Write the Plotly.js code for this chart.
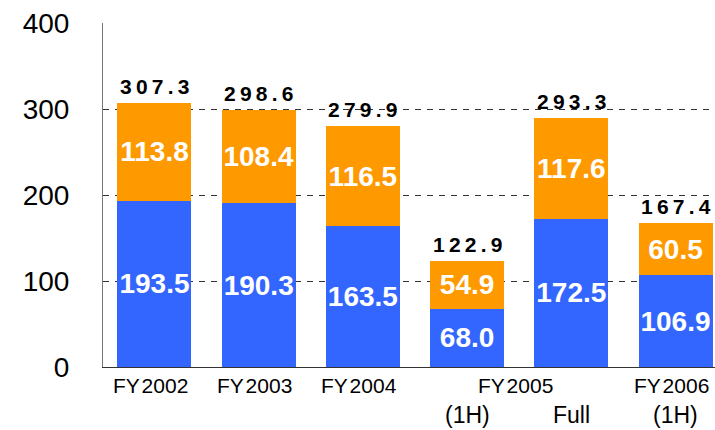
<!DOCTYPE html>
<html>
<head>
<meta charset="utf-8">
<script src="https://cdn.plot.ly/plotly-3.0.1.min.js"></script>
<style>html,body{margin:0;padding:0;background:#fff;}#chart{width:715px;height:430px;}</style>
</head>
<body>
<div id="chart"></div>
<script>
// ---- data ----
const categories = ['FY2002', 'FY2003', 'FY2004', 'FY2005 (1H)', 'FY2005 Full', 'FY2006 (1H)'];
const yearLabels = ['FY\u200A2002', 'FY\u200A2003', 'FY\u200A2004', 'FY\u200A2005', 'FY\u200A2005', 'FY\u200A2006'];
const subLabels = ['', '', '', '(1H)', 'Full', '(1H)'];
const blueValues = [193.5, 190.3, 163.5, 68.0, 172.5, 106.9];
const orangeValues = [113.8, 108.4, 116.5, 54.9, 117.6, 60.5];
const totals = [307.3, 298.6, 279.9, 122.9, 293.3, 167.4];
const yTicks = [0, 100, 200, 300, 400];

const FONT = 'Liberation Sans, Arial, sans-serif';
const idx = categories.map((c, i) => i);

function spaced(v) {
  return v.toFixed(1).split('').join('\u2009');
}

const common = {
  type: 'bar',
  x: idx,
  width: 0.71,
  textposition: 'inside',
  insidetextanchor: 'middle',
  textangle: 0,
  constraintext: 'none',
  textfont: {family: FONT, size: 28, color: '#ffffff'},
  hoverinfo: 'skip'
};

const traces = [
  Object.assign({}, common, {
    name: 'blue', y: blueValues,
    text: blueValues.map(v => '<b>' + v.toFixed(1) + '</b>'),
    marker: {color: '#3366FF', line: {width: 0}}
  }),
  Object.assign({}, common, {
    name: 'orange', y: orangeValues,
    text: orangeValues.map(v => '<b>' + v.toFixed(1) + '</b>'),
    marker: {color: '#FF9900', line: {width: 0}}
  })
];

const annotations = [];
// totals above bars
idx.forEach(i => {
  annotations.push({
    x: i, y: blueValues[i] + orangeValues[i], xref: 'x', yref: 'y',
    text: '<b>' + spaced(totals[i]) + '</b>', showarrow: false,
    yanchor: 'bottom', yshift: 3,
    font: {family: FONT, size: 21, color: '#000000'}
  });
});
// year labels (centered over all categories sharing that label)
const seen = {};
yearLabels.forEach((lab, i) => {
  if (seen[lab]) return;
  seen[lab] = true;
  const members = idx.filter(j => yearLabels[j] === lab);
  const xc = members.reduce((a, b) => a + b, 0) / members.length;
  annotations.push({
    x: xc, y: 0, xref: 'x', yref: 'paper', text: lab, showarrow: false,
    yanchor: 'middle', yshift: -18, xshift: -4,
    font: {family: FONT, size: 21, color: '#000000'}
  });
});
// sub labels
subLabels.forEach((lab, i) => {
  if (!lab) return;
  annotations.push({
    x: i, y: 0, xref: 'x', yref: 'paper', text: lab, showarrow: false,
    yanchor: 'middle', yshift: -48,
    font: {family: FONT, size: 23, color: '#000000'}
  });
});

const layout = {
  width: 715, height: 430,
  margin: {l: 103, r: 0, t: 23, b: 63, pad: 0},
  paper_bgcolor: '#ffffff', plot_bgcolor: '#ffffff',
  barmode: 'stack',
  showlegend: false,
  font: {family: FONT, color: '#000000'},
  uniformtext: {minsize: 28, mode: 'show'},
  xaxis: {
    range: [-0.494, 5.379], showticklabels: false, showgrid: false,
    zeroline: false, showline: true, linecolor: '#333333', linewidth: 1,
    ticks: '', fixedrange: true
  },
  yaxis: {
    range: [0, 400], tickvals: yTicks, ticktext: yTicks.map(String),
    showgrid: true, gridcolor: '#333333', gridwidth: 1, griddash: '6px,6px',
    zeroline: false, showline: true, linecolor: '#777777', linewidth: 1,
    ticks: '', ticklabelstandoff: 27,
    tickfont: {family: FONT, size: 28, color: '#000000'}, fixedrange: true
  },
  annotations: annotations
};

Plotly.newPlot('chart', traces, layout, {displayModeBar: false, staticPlot: true});
</script>
</body>
</html>
